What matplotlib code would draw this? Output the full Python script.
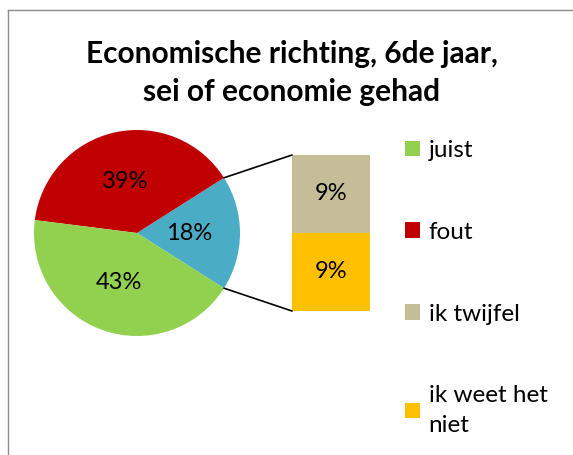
import numpy as np
import matplotlib
matplotlib.use("Agg")
import matplotlib.pyplot as plt
from matplotlib.patches import ConnectionPatch, Patch
from matplotlib.lines import Line2D

plt.rcParams['font.family'] = ['Lato', 'DejaVu Sans']

title = "Economische richting, 6de jaar,\nsei of economie gehad"
categories = ["juist", "fout", "ik twijfel", "ik weet het\nniet"]
values = [43, 39, 9, 9]
colors = ["#92D050", "#C00000", "#C4BD97", "#FFC000"]
other_color = "#4BACC6"

W, H = 573, 455
fig = plt.figure(figsize=(W / 100, H / 100), dpi=100)

# grey chart border (only left and top visible in the crop)
fig.add_artist(Line2D([8 / W, 8 / W], [0, 1 - 10 / H], color="#8c8c8c", lw=1))
fig.add_artist(Line2D([8 / W, 1], [1 - 10 / H, 1 - 10 / H], color="#8c8c8c", lw=1))

fig.text(292 / W, 1 - 73 / H, title, ha="center", va="center",
         fontsize=21.5, fontweight="bold", linespacing=1.4)

# pie: juist, fout, and the rest combined
other = values[2] + values[3]
pie_vals = [other, values[1], values[0]]
pie_cols = [other_color, colors[1], colors[0]]
half = 360 * other / sum(values) / 2

cx, cy, r = 137, 233, 103
ax_pie = fig.add_axes([(cx - r) / W, 1 - (cy + r) / H, 2 * r / W, 2 * r / H])
wedges, _, autotexts = ax_pie.pie(pie_vals, colors=pie_cols, startangle=-half,
                                  counterclock=True, autopct="%1.0f%%",
                                  pctdistance=0.51, radius=1,
                                  textprops=dict(fontsize=17, color="black"))
ax_pie.set_xlim(-1, 1)
ax_pie.set_ylim(-1, 1)
ax_pie.axis("off")

# stacked bar of the rest
bx0, bx1, by0, by1 = 292, 370, 155, 311
ax_bar = fig.add_axes([bx0 / W, 1 - by1 / H, (bx1 - bx0) / W, (by1 - by0) / H])
b1 = ax_bar.bar(0, values[3], width=1, color=colors[3])
b2 = ax_bar.bar(0, values[2], width=1, bottom=values[3], color=colors[2])
ax_bar.bar_label(b1, labels=[f"{values[3]}%"], label_type="center", fontsize=17)
ax_bar.bar_label(b2, labels=[f"{values[2]}%"], label_type="center", fontsize=17)
ax_bar.set_xlim(-0.5, 0.5)
ax_bar.set_ylim(0, other)
ax_bar.axis("off")

# connector lines
t = np.deg2rad(half)
for sgn, yb in [(1, other), (-1, 0)]:
    con = ConnectionPatch(xyA=(np.cos(t), sgn * np.sin(t)), coordsA=ax_pie.transData,
                          xyB=(-0.5, yb), coordsB=ax_bar.transData,
                          color="black", lw=1.2)
    fig.add_artist(con)

handles = [Patch(facecolor=c) for c in colors]
leg = fig.legend(handles, categories, loc="upper left",
                 bbox_to_anchor=(405 / W, 1 - 140 / H), frameon=False,
                 fontsize=17.5, handlelength=0.62, handleheight=0.62,
                 handletextpad=0.35, labelspacing=2.5, borderpad=0, borderaxespad=0)
leg.get_texts()[3].set_linespacing(1.5)

fig.savefig("out.png", dpi=100)
